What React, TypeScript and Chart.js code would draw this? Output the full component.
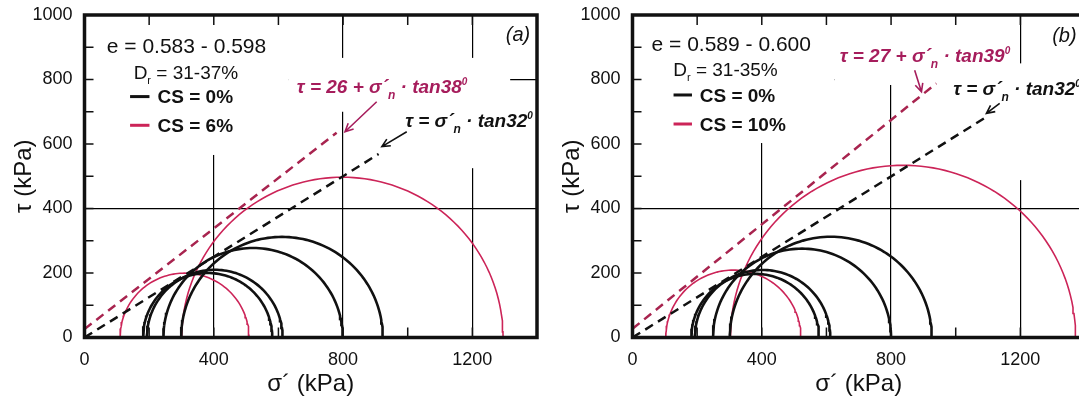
import React, { useEffect, useRef } from 'react';
import { Chart, registerables } from 'chart.js';

Chart.register(...registerables);

const FONT = 'Arial, "Liberation Sans", Helvetica, sans-serif';

// ---------- data ----------
const X_TICKS = [0, 400, 800, 1200];
const Y_TICKS = [0, 200, 400, 600, 800, 1000];
const X_MINOR = [200, 400, 600, 800, 1000, 1200];
const Y_MINOR = [100, 200, 300, 400, 500, 600, 700, 800, 900];

// Mohr circles: principal stresses sigma3 / sigma1 (kPa)
const A_CS0_S3 = [181, 193, 244, 299];
const A_CS0_S1 = [581, 613, 799, 923];
const A_CS6_S3 = [110, 301];
const A_CS6_S1 = [509, 1295];

const B_CS0_S3 = [182, 193, 249, 301];
const B_CS0_S1 = [577, 612, 800, 926];
const B_CS10_S3 = [103, 303];
const B_CS10_S1 = [521, 1371];

// failure envelopes (end points)
const A_ENV_BLACK_X = [0, 910];
const A_ENV_BLACK_Y = [0, 569];
const A_ENV_RED_X = [0, 780];
const A_ENV_RED_Y = [26, 635];
const B_ENV_BLACK_X = [0, 1100];
const B_ENV_BLACK_Y = [0, 687];
const B_ENV_RED_X = [0, 940];
const B_ENV_RED_Y = [27, 788];

// ---------- text ----------
const A_E = 'e = 0.583 - 0.598';
const A_DR = ' = 31-37%';
const A_CS_BLACK = 'CS = 0%';
const A_CS_RED = 'CS = 6%';
const A_TAG = '(a)';
const A_RED_EQ = ['τ = 26 + σ', '´', 'n', ' · tan38', '0'];
const BLACK_EQ = ['τ = σ', '´', 'n', ' · tan32', '0'];

const B_E = 'e = 0.589 - 0.600';
const B_DR = ' = 31-35%';
const B_CS_BLACK = 'CS = 0%';
const B_CS_RED = 'CS = 10%';
const B_TAG = '(b)';
const B_RED_EQ = ['τ = 27 + σ', '´', 'n', ' · tan39', '0'];

// ---------- layout (data coordinates) ----------
const A_LAYOUT = {
  e: [69, 907],
  dr: [152, 824],
  leg: [141, 201, 226, 747, 658],
  tag: [1379, 943],
  redEq: [657, 778],
  blackEq: [992, 674],
  boxes: [
    [0, 630, 566, 1000],
    [630, 1317, 700, 867],
    [977, 1400, 525, 721],
  ],
  arrows: [
    [904, 731, 806, 638, 'red'],
    [997, 638, 920, 592, 'black'],
  ],
};

const B_LAYOUT = {
  e: [59, 912],
  dr: [126, 833],
  leg: [127, 184, 208, 752, 662],
  tag: [1374, 938],
  redEq: [641, 876],
  blackEq: [992, 773],
  boxes: [
    [0, 625, 603, 1000],
    [625, 1183, 783, 1000],
    [935, 1400, 488, 850],
  ],
  arrows: [
    [873, 829, 894, 762, 'red'],
    [1136, 726, 1095, 695, 'black'],
  ],
};

const RED_LINE = '#cc2458';
const RED_DASH = '#a8244f';
const RED_TEXT = '#a61d5c';
const BLACK = '#111111';

function mohr(s3: number, s1: number) {
  const c = (s1 + s3) / 2;
  const r = (s1 - s3) / 2;
  const pts: { x: number; y: number }[] = [];
  for (let i = 0; i <= 180; i += 2) {
    const a = (i * Math.PI) / 180;
    pts.push({ x: c + r * Math.cos(a), y: r * Math.sin(a) });
  }
  return pts;
}

type Seg = { t: string; s?: number; dy?: number };

function drawRich(
  ctx: CanvasRenderingContext2D,
  x: number,
  yCenter: number,
  segs: Seg[],
  size: number,
  style: string,
  color: string,
  align: 'left' | 'right' = 'left'
) {
  ctx.save();
  ctx.fillStyle = color;
  ctx.textBaseline = 'alphabetic';
  ctx.textAlign = 'left';
  const y = yCenter + size * 0.36;
  let total = 0;
  const widths = segs.map((sg) => {
    ctx.font = `${style} ${Math.round(size * (sg.s || 1))}px ${FONT}`;
    const w = ctx.measureText(sg.t).width;
    total += w;
    return w;
  });
  let cx = align === 'right' ? x - total : x;
  segs.forEach((sg, i) => {
    ctx.font = `${style} ${Math.round(size * (sg.s || 1))}px ${FONT}`;
    ctx.fillText(sg.t, cx, y + (sg.dy || 0));
    cx += widths[i];
  });
  ctx.restore();
}

function eqSegs(parts: string[]): Seg[] {
  return [
    { t: parts[0] },
    { t: parts[1] },
    { t: parts[2], s: 0.62, dy: 6 },
    { t: parts[3] },
    { t: parts[4], s: 0.55, dy: -8 },
  ];
}

type PanelText = {
  e: string;
  dr: string;
  csBlack: string;
  csRed: string;
  tag: string;
  redEq: string[];
  blackEq: string[];
};

function makePlugin(layout: any, txt: PanelText) {
  return {
    id: 'panelDecor',
    beforeDatasetsDraw(chart: any) {
      const { ctx } = chart;
      const xs = chart.scales.x;
      const ys = chart.scales.y;
      const ca = chart.chartArea;
      ctx.save();
      ctx.beginPath();
      ctx.rect(ca.left, ca.top, ca.right - ca.left, ca.bottom - ca.top);
      ctx.clip();
      ctx.fillStyle = '#ffffff';
      layout.boxes.forEach((b: number[]) => {
        const x1 = xs.getPixelForValue(b[0]);
        const x2 = xs.getPixelForValue(b[1]);
        const y1 = ys.getPixelForValue(b[3]);
        const y2 = ys.getPixelForValue(b[2]);
        ctx.fillRect(x1, y1, x2 - x1, y2 - y1);
      });
      ctx.restore();
    },
    afterDatasetsDraw(chart: any) {
      const { ctx } = chart;
      const xs = chart.scales.x;
      const ys = chart.scales.y;
      const ca = chart.chartArea;
      const px = (v: number) => xs.getPixelForValue(v);
      const py = (v: number) => ys.getPixelForValue(v);

      // inward ticks
      ctx.save();
      ctx.strokeStyle = BLACK;
      ctx.lineWidth = 1.5;
      ctx.beginPath();
      X_MINOR.forEach((v) => {
        const x = px(v);
        ctx.moveTo(x, ca.top);
        ctx.lineTo(x, ca.top + 10);
        ctx.moveTo(x, ca.bottom);
        ctx.lineTo(x, ca.bottom - 10);
      });
      Y_MINOR.forEach((v) => {
        const y = py(v);
        ctx.moveTo(ca.left, y);
        ctx.lineTo(ca.left + 9, y);
      });
      ctx.stroke();

      // frame
      ctx.lineWidth = 3.5;
      ctx.strokeRect(ca.left, ca.top, ca.right - ca.left, ca.bottom - ca.top);
      ctx.restore();

      // texts
      drawRich(ctx, px(layout.e[0]), py(layout.e[1]), [{ t: txt.e }], 21, 'normal', BLACK);
      drawRich(
        ctx,
        px(layout.dr[0]),
        py(layout.dr[1]),
        [{ t: 'D' }, { t: 'r', s: 0.6, dy: 5 }, { t: txt.dr }],
        19,
        'normal',
        BLACK
      );
      const [l1, l2, lt, yb, yr] = layout.leg;
      ctx.save();
      ctx.lineWidth = 3;
      ctx.strokeStyle = BLACK;
      ctx.beginPath();
      ctx.moveTo(px(l1), py(yb));
      ctx.lineTo(px(l2), py(yb));
      ctx.stroke();
      ctx.strokeStyle = RED_LINE;
      ctx.beginPath();
      ctx.moveTo(px(l1), py(yr));
      ctx.lineTo(px(l2), py(yr));
      ctx.stroke();
      ctx.restore();
      drawRich(ctx, px(lt), py(yb), [{ t: txt.csBlack }], 18.5, 'bold', BLACK);
      drawRich(ctx, px(lt), py(yr), [{ t: txt.csRed }], 18.5, 'bold', BLACK);
      drawRich(ctx, px(layout.tag[0]), py(layout.tag[1]), [{ t: txt.tag }], 20, 'italic', BLACK, 'right');
      drawRich(ctx, px(layout.redEq[0]), py(layout.redEq[1]), eqSegs(txt.redEq), 19, 'italic bold', RED_TEXT);
      drawRich(ctx, px(layout.blackEq[0]), py(layout.blackEq[1]), eqSegs(txt.blackEq), 19, 'italic bold', BLACK);

      // arrows
      layout.arrows.forEach((a: any[]) => {
        const x1 = px(a[0]);
        const y1 = py(a[1]);
        const x2 = px(a[2]);
        const y2 = py(a[3]);
        const col = a[4] === 'red' ? RED_TEXT : BLACK;
        ctx.save();
        ctx.strokeStyle = col;
        ctx.lineWidth = 1.6;
        ctx.beginPath();
        ctx.moveTo(x1, y1);
        ctx.lineTo(x2, y2);
        const ang = Math.atan2(y2 - y1, x2 - x1);
        const h = 9;
        ctx.moveTo(x2 - h * Math.cos(ang - 0.45), y2 - h * Math.sin(ang - 0.45));
        ctx.lineTo(x2, y2);
        ctx.lineTo(x2 - h * Math.cos(ang + 0.45), y2 - h * Math.sin(ang + 0.45));
        ctx.stroke();
        ctx.restore();
      });
    },
  };
}

function buildDatasets(
  bS3: number[],
  bS1: number[],
  rS3: number[],
  rS1: number[],
  ebx: number[],
  eby: number[],
  erx: number[],
  ery: number[]
) {
  const ds: any[] = [];
  ds.push({
    data: ebx.map((x, i) => ({ x, y: eby[i] })),
    borderColor: BLACK,
    borderWidth: 2.5,
    borderDash: [9, 6],
  });
  ds.push({
    data: erx.map((x, i) => ({ x, y: ery[i] })),
    borderColor: RED_DASH,
    borderWidth: 2.5,
    borderDash: [9, 6],
  });
  bS3.forEach((s3, i) => {
    ds.push({ data: mohr(s3, bS1[i]), borderColor: BLACK, borderWidth: 2.6 });
  });
  rS3.forEach((s3, i) => {
    ds.push({ data: mohr(s3, rS1[i]), borderColor: RED_LINE, borderWidth: 1.6 });
  });
  return ds.map((d) => ({ ...d, showLine: true, pointRadius: 0, fill: false, tension: 0 }));
}

function makeConfig(datasets: any[], plugin: any) {
  const gridColor = (max: number) => (c: any) => {
    const v = c.tick ? c.tick.value : 0;
    return v > 0 && v < max && v % 400 === 0 ? '#000000' : 'rgba(0,0,0,0)';
  };
  return {
    type: 'scatter',
    data: { datasets },
    plugins: [plugin],
    options: {
      responsive: false,
      animation: false,
      events: [],
      layout: { padding: { top: 15, right: 23, left: 0, bottom: 0 } },
      plugins: { legend: { display: false }, tooltip: { enabled: false } },
      scales: {
        x: {
          type: 'linear',
          min: 0,
          max: 1400,
          afterFit: (s: any) => {
            s.height = 65.5;
            s.paddingLeft = 0;
            s.paddingRight = 0;
          },
          afterBuildTicks: (s: any) => {
            s.ticks = X_TICKS.map((v) => ({ value: v }));
          },
          ticks: {
            padding: 12,
            color: BLACK,
            font: { family: FONT, size: 18 },
            maxRotation: 0,
            callback: (v: any) => String(v),
          },
          grid: { color: gridColor(1400), lineWidth: 1.2, drawTicks: false },
          border: { display: false },
          title: {
            display: true,
            text: 'σ´ (kPa)',
            color: BLACK,
            font: { family: FONT, size: 24 },
            padding: { top: 0, bottom: 4 },
          },
        },
        y: {
          type: 'linear',
          min: 0,
          max: 1000,
          afterFit: (s: any) => {
            s.width = 84.5;
            s.paddingTop = 0;
            s.paddingBottom = 0;
          },
          afterBuildTicks: (s: any) => {
            s.ticks = Y_TICKS.map((v) => ({ value: v }));
          },
          ticks: {
            padding: 12,
            color: BLACK,
            font: { family: FONT, size: 18 },
            callback: (v: any) => String(v),
          },
          grid: { color: gridColor(1000), lineWidth: 1.2, drawTicks: false },
          border: { display: false },
          title: {
            display: true,
            text: 'τ (kPa)',
            color: BLACK,
            font: { family: FONT, size: 24 },
            padding: { top: 10, bottom: 0 },
          },
        },
      },
    },
  };
}

function Panel({ left, which }: { left: number; which: 'a' | 'b' }) {
  const ref = useRef<HTMLCanvasElement | null>(null);
  useEffect(() => {
    if (!ref.current) return;
    let chart: any;
    if (which === 'a') {
      const ds = buildDatasets(
        A_CS0_S3,
        A_CS0_S1,
        A_CS6_S3,
        A_CS6_S1,
        A_ENV_BLACK_X,
        A_ENV_BLACK_Y,
        A_ENV_RED_X,
        A_ENV_RED_Y
      );
      const plugin = makePlugin(A_LAYOUT, {
        e: A_E,
        dr: A_DR,
        csBlack: A_CS_BLACK,
        csRed: A_CS_RED,
        tag: A_TAG,
        redEq: A_RED_EQ,
        blackEq: BLACK_EQ,
      });
      chart = new Chart(ref.current, makeConfig(ds, plugin) as any);
    } else {
      const ds = buildDatasets(
        B_CS0_S3,
        B_CS0_S1,
        B_CS10_S3,
        B_CS10_S1,
        B_ENV_BLACK_X,
        B_ENV_BLACK_Y,
        B_ENV_RED_X,
        B_ENV_RED_Y
      );
      const plugin = makePlugin(B_LAYOUT, {
        e: B_E,
        dr: B_DR,
        csBlack: B_CS_BLACK,
        csRed: B_CS_RED,
        tag: B_TAG,
        redEq: B_RED_EQ,
        blackEq: BLACK_EQ,
      });
      chart = new Chart(ref.current, makeConfig(ds, plugin) as any);
    }
    return () => chart.destroy();
  }, [which]);
  return (
    <canvas
      ref={ref}
      width={560}
      height={403}
      style={{ position: 'absolute', left, top: 0, width: 560, height: 403 }}
    />
  );
}

export default function App() {
  return (
    <div
      style={{
        position: 'absolute',
        left: 0,
        top: 0,
        width: 1079,
        height: 403,
        overflow: 'hidden',
        background: '#ffffff',
      }}
    >
      <Panel left={0} which="a" />
      <Panel left={548} which="b" />
    </div>
  );
}
